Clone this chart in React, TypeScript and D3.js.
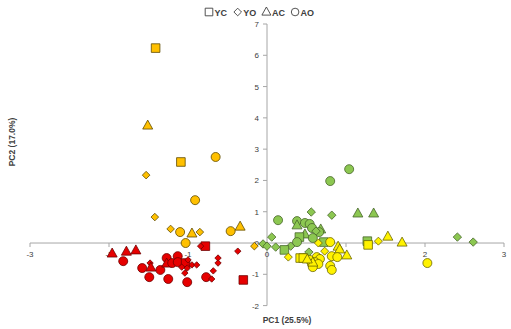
import React from 'react';
import * as d3 from 'd3';

// [PC1, PC2, shape]  shape: S=YC square, D=YO diamond, T=AC triangle, C=AO circle
type Pt = [number, number, string];

const goldPoints: Pt[] = [
  [-1.41, 6.23, 'S'], [-1.51, 3.77, 'T'], [-1.09, 2.59, 'S'], [-0.65, 2.75, 'C'],
  [-1.53, 2.17, 'D'], [-0.91, 1.37, 'C'], [-1.42, 0.83, 'D'], [-1.22, 0.45, 'D'],
  [-1.10, 0.35, 'C'], [-0.95, 0.32, 'T'], [-0.85, 0.35, 'D'], [-0.46, 0.38, 'C'],
  [-0.34, 0.54, 'T'], [-1.03, 0.0, 'C'], [-0.16, -0.10, 'D'],
];

const redPoints: Pt[] = [
  [-1.96, -0.32, 'T'], [-1.78, -0.26, 'T'], [-1.66, -0.22, 'T'], [-1.82, -0.58, 'C'],
  [-1.58, -0.80, 'C'], [-1.48, -0.64, 'D'], [-1.47, -0.77, 'T'], [-1.49, -1.09, 'C'],
  [-1.35, -0.86, 'C'], [-1.25, -1.15, 'C'], [-1.27, -0.48, 'C'], [-1.27, -0.64, 'T'],
  [-1.20, -0.64, 'C'], [-1.13, -0.42, 'C'], [-1.13, -0.61, 'C'], [-1.01, -1.25, 'C'],
  [-1.03, -0.64, 'S'], [-1.08, -0.77, 'D'], [-1.00, -0.54, 'D'], [-0.95, -0.70, 'D'],
  [-0.89, -0.70, 'D'], [-1.04, -0.96, 'D'], [-1.01, -0.80, 'D'], [-0.77, -1.09, 'C'],
  [-0.70, -1.15, 'D'], [-0.68, -0.89, 'D'], [-0.62, -0.48, 'D'], [-0.62, -0.64, 'D'],
  [-0.78, -0.10, 'S'], [-0.84, -0.10, 'D'], [-0.37, -0.26, 'D'], [-0.30, -1.18, 'S'],
];

const greenPoints: Pt[] = [
  [1.04, 2.36, 'C'], [0.80, 1.98, 'C'], [0.56, 0.99, 'D'], [0.82, 0.89, 'D'],
  [1.15, 0.96, 'T'], [1.35, 0.96, 'T'], [0.14, 0.73, 'C'], [0.38, 0.70, 'C'],
  [0.38, 0.58, 'T'], [0.48, 0.64, 'C'], [0.54, 0.61, 'C'], [0.57, 0.48, 'C'],
  [0.68, 0.45, 'T'], [0.66, 0.35, 'C'], [0.62, 0.38, 'D'], [0.48, 0.29, 'T'],
  [0.58, 0.16, 'C'], [0.41, 0.19, 'S'], [0.38, 0.03, 'C'], [0.72, 0.03, 'S'],
  [0.30, -0.10, 'D'], [0.22, -0.22, 'S'], [0.06, 0.19, 'D'], [-0.05, -0.03, 'D'],
  [0.0, -0.10, 'D'], [0.11, -0.13, 'D'], [0.53, -0.29, 'D'], [0.48, -0.48, 'C'],
  [2.41, 0.19, 'D'], [2.61, 0.03, 'D'], [1.27, 0.06, 'S'],
];

const yellowPoints: Pt[] = [
  [0.27, -0.45, 'D'], [0.42, -0.48, 'S'], [0.46, -0.48, 'S'], [0.65, 0.0, 'D'],
  [0.80, 0.03, 'C'], [0.90, -0.10, 'T'], [0.92, -0.19, 'T'], [0.73, -0.26, 'D'],
  [0.82, -0.42, 'C'], [0.89, -0.45, 'C'], [1.01, -0.38, 'T'], [0.80, -0.73, 'C'],
  [0.82, -0.86, 'C'], [0.63, -0.45, 'C'], [0.67, -0.51, 'C'], [0.61, -0.61, 'C'],
  [0.54, -0.54, 'C'], [0.57, -0.67, 'C'], [0.65, -0.67, 'C'], [0.58, -0.77, 'C'],
  [0.58, -0.61, 'T'], [0.51, -0.51, 'T'], [1.28, -0.06, 'S'], [1.41, 0.06, 'D'],
  [1.53, 0.22, 'T'], [1.71, 0.03, 'T'], [2.03, -0.64, 'C'],
];

const xTicks = [-3, -2, -1, 0, 1, 2, 3];
const yTicks = [-2, -1, 0, 1, 2, 3, 4, 5, 6, 7];
const legendItems = [
  { shape: 'S', label: 'YC' },
  { shape: 'D', label: 'YO' },
  { shape: 'T', label: 'AC' },
  { shape: 'C', label: 'AO' },
];

const W = 511;
const H = 329;

function markerPath(shape: string, r: number): string {
  const p = d3.path();
  if (shape === 'S') {
    p.rect(-r, -r, 2 * r, 2 * r);
  } else if (shape === 'D') {
    p.moveTo(0, -r); p.lineTo(r, 0); p.lineTo(0, r); p.lineTo(-r, 0); p.closePath();
  } else if (shape === 'T') {
    p.moveTo(0, -r); p.lineTo(r, r * 0.8); p.lineTo(-r, r * 0.8); p.closePath();
  } else {
    p.arc(0, 0, r, 0, Math.PI * 2);
  }
  return p.toString();
}

const groups = [
  { pts: goldPoints, fill: '#FFC000', stroke: '#5E4A00', dSize: 3.8 },
  { pts: redPoints, fill: '#E60000', stroke: '#6E0000', dSize: 3.2 },
  { pts: greenPoints, fill: '#8CC751', stroke: '#46652A', dSize: 4.2 },
  { pts: yellowPoints, fill: '#FFF200', stroke: '#6B6600', dSize: 4 },
];

export default function App() {
  const x = d3.scaleLinear().domain([-3, 3]).range([30, 504]);
  const y = d3.scaleLinear().domain([-2, 7]).range([305.6, 24]);
  const axisColor = '#A6A6A6';
  const labelColor = '#404040';
  const font = 'Liberation Sans, Arial, sans-serif';

  const sizeFor = (shape: string, dSize: number) =>
    shape === 'C' ? 4.5 : shape === 'S' ? 4.3 : shape === 'T' ? 5 : dSize;

  let lx = 205;
  const legendEls: React.ReactNode[] = [];
  legendItems.forEach((it, i) => {
    legendEls.push(
      <path key={'ls' + i} d={markerPath(it.shape, it.shape === 'T' ? 4.5 : 3.8)}
        transform={`translate(${lx + 4},${it.shape === 'T' ? 11.5 : 12})`}
        fill="none" stroke="#404040" strokeWidth={0.9} />
    );
    legendEls.push(
      <text key={'lt' + i} x={lx + 9.5} y={15.5} fontSize={9} fontWeight="bold"
        fill="#404040" fontFamily={font}>{it.label}</text>
    );
    lx += 28.7;
  });

  return (
    <svg width={W} height={H} style={{ position: 'absolute', left: 0, top: 0, background: '#fff' }}>
      {/* axes */}
      <line x1={x(-3)} x2={x(3)} y1={y(0)} y2={y(0)} stroke={axisColor} strokeWidth={1} />
      <line x1={x(0)} x2={x(0)} y1={y(7)} y2={y(-2)} stroke={axisColor} strokeWidth={1} />
      {xTicks.map((t) => (
        <g key={'xt' + t}>
          <line x1={x(t)} x2={x(t)} y1={y(0)} y2={y(0) + 4} stroke={axisColor} />
          <text x={x(t)} y={y(0) + 14} fontSize={8} textAnchor="middle" fill={labelColor}
            fontFamily={font}>{t}</text>
        </g>
      ))}
      {yTicks.map((t) => (
        <g key={'yt' + t}>
          <line x1={x(0) - 4} x2={x(0)} y1={y(t)} y2={y(t)} stroke={axisColor} />
          <text x={x(0) - 8} y={y(t) + 3} fontSize={8} textAnchor="end" fill={labelColor}
            fontFamily={font}>{t}</text>
        </g>
      ))}
      {/* points */}
      {groups.map((g, gi) => (
        <g key={'g' + gi}>
          {g.pts.map((p, i) => (
            <path key={i} d={markerPath(p[2], sizeFor(p[2], g.dSize))}
              transform={`translate(${x(p[0])},${y(p[1])})`}
              fill={g.fill} stroke={g.stroke} strokeWidth={0.8} />
          ))}
        </g>
      ))}
      {/* titles */}
      <text x={287} y={323} fontSize={8.5} fontWeight="bold" textAnchor="middle"
        fill={labelColor} fontFamily={font}>PC1 (25.5%)</text>
      <text transform="translate(15,142) rotate(-90)" fontSize={8.5} fontWeight="bold"
        textAnchor="middle" fill={labelColor} fontFamily={font}>PC2 (17.0%)</text>
      {legendEls}
    </svg>
  );
}
